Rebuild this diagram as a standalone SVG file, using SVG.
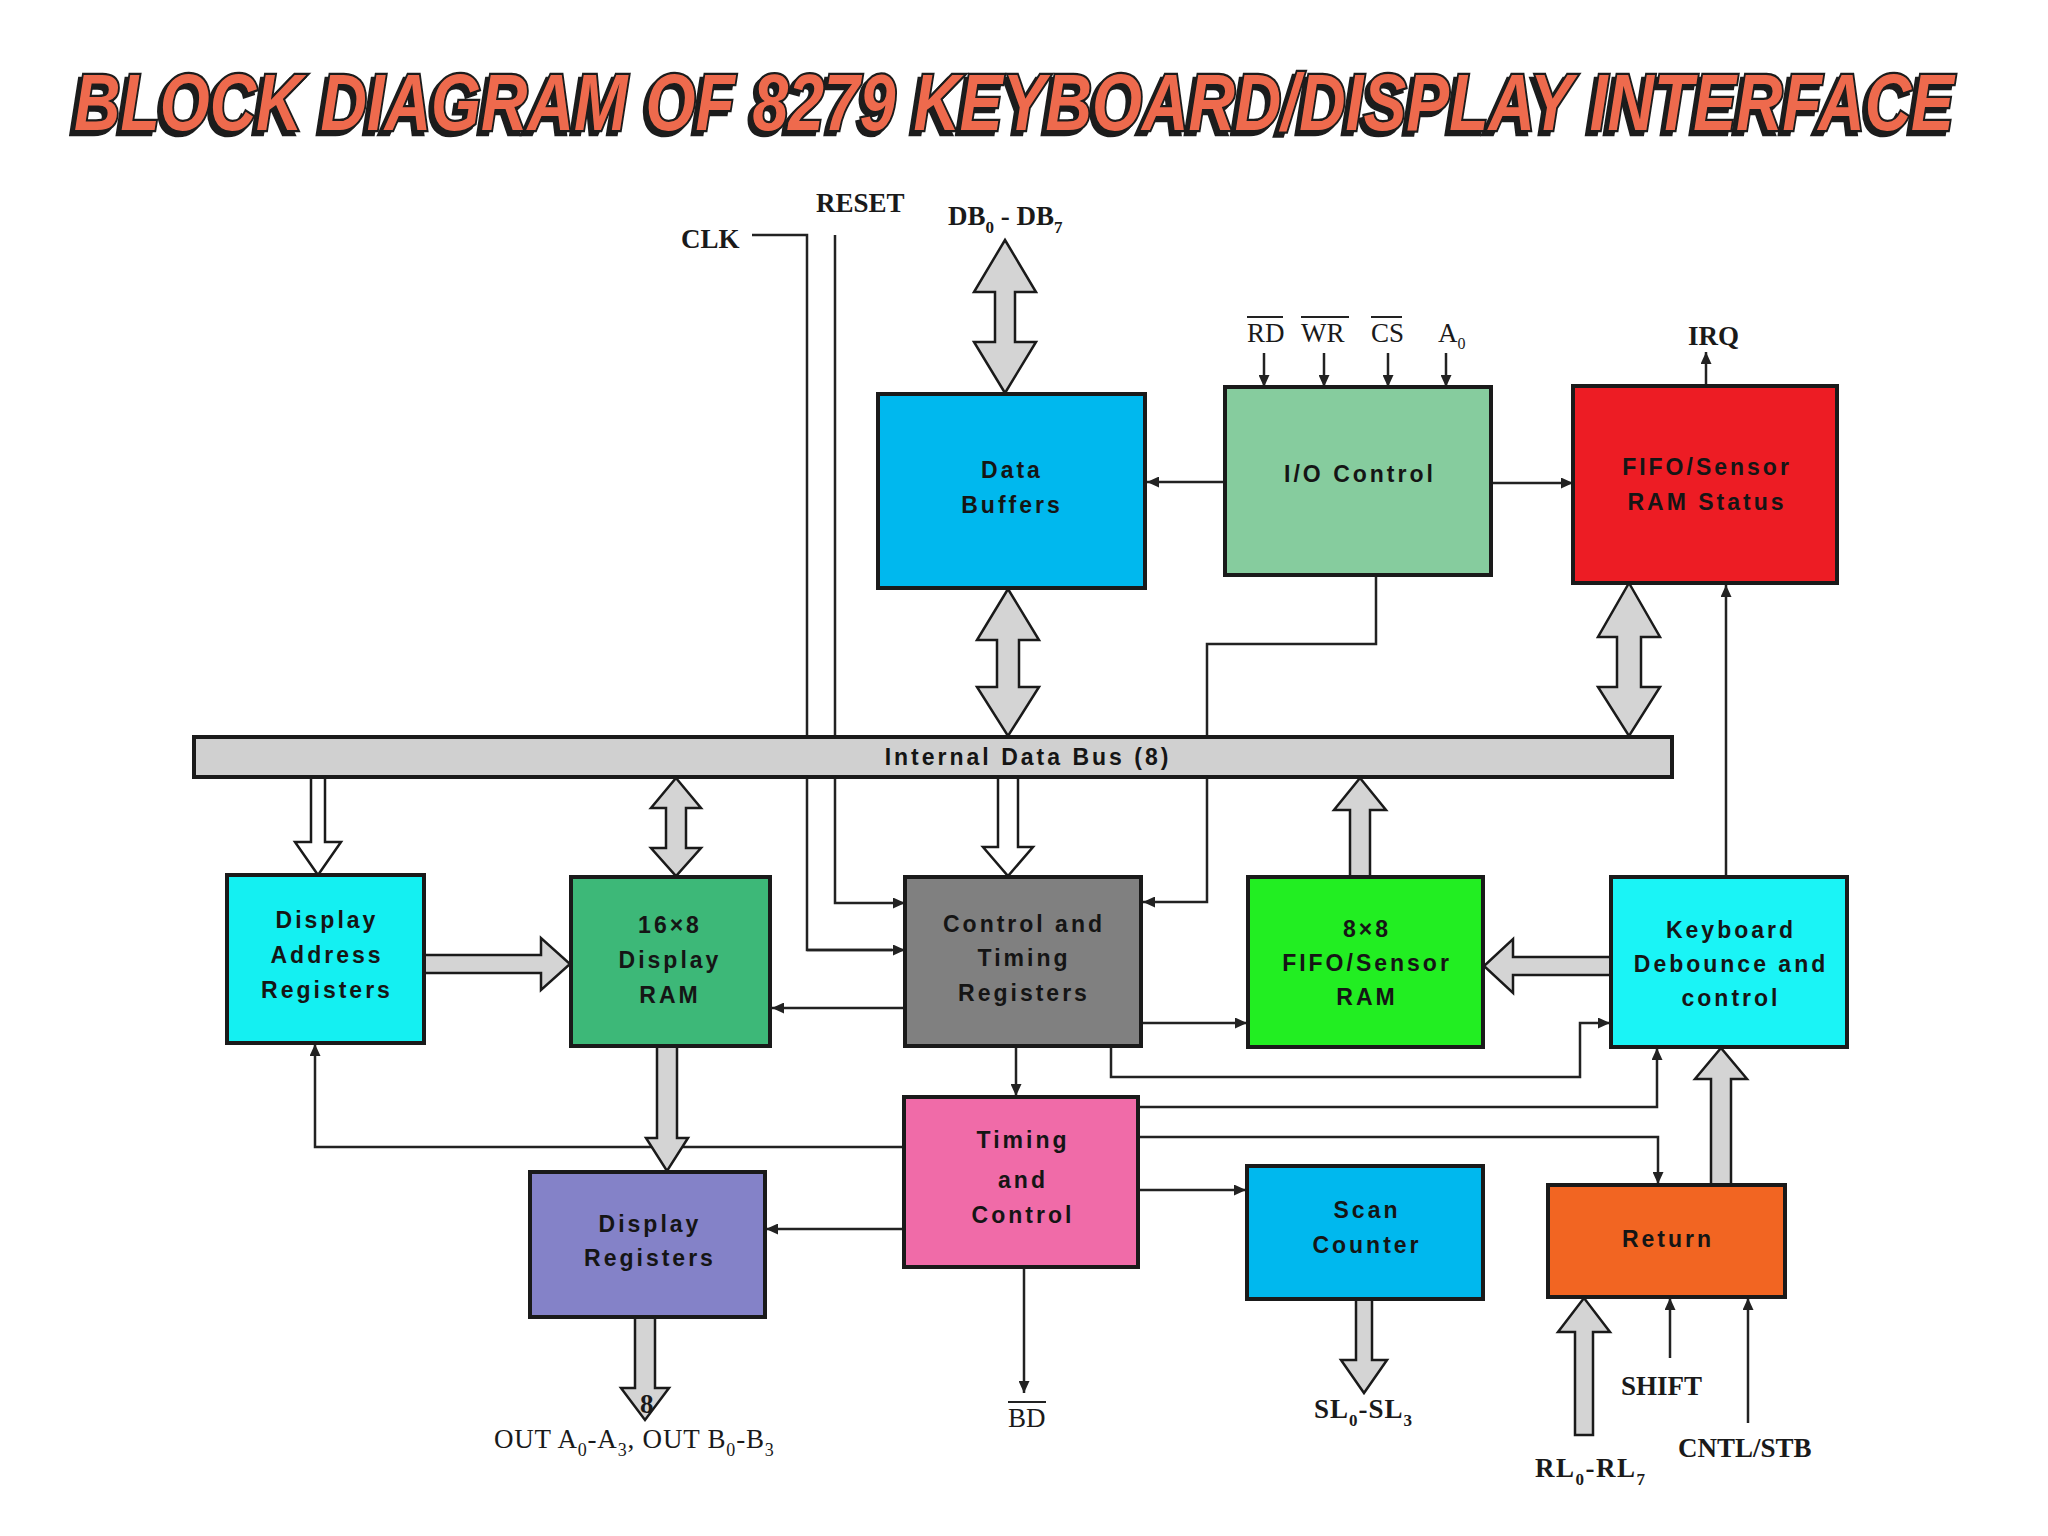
<svg xmlns="http://www.w3.org/2000/svg" width="2048" height="1536" viewBox="0 0 2048 1536">
<style>
.box{stroke:#1a1a1a;stroke-width:4}
.t{font-family:"Liberation Sans",Arial,sans-serif;font-weight:bold;font-size:23px;letter-spacing:3px;fill:#151515;text-anchor:middle}
.lbl{font-family:"Liberation Serif","Times New Roman",serif;font-weight:bold;font-size:27px;fill:#1a1a1a}
.lr{font-family:"Liberation Serif","Times New Roman",serif;font-size:27px;fill:#1a1a1a}
.ln{fill:none;stroke:#222;stroke-width:2.5}
.ar{fill:none;stroke:#222;stroke-width:2.5;marker-end:url(#ah)}
.ov{stroke:#222;stroke-width:2}
.blk{fill:#d4d4d4;stroke:#1a1a1a;stroke-width:2.5;stroke-linejoin:miter}
.hol{fill:#ffffff;stroke:#1a1a1a;stroke-width:2.5}
.title{font-family:"Liberation Sans",Arial,sans-serif;font-weight:bold;font-style:italic;font-size:56px}
</style>
<defs>
<marker id="ah" markerUnits="userSpaceOnUse" markerWidth="13" markerHeight="11" refX="12" refY="5.5" orient="auto">
<path d="M0,0 L12,5.5 L0,11 z" fill="#222"/>
</marker>
<filter id="shadow" filterUnits="userSpaceOnUse" x="0" y="0" width="2048" height="140">
<feOffset in="SourceAlpha" dx="-4" dy="3" result="o"/>
<feFlood flood-color="#1a1a1a"/>
<feComposite in2="o" operator="in" result="s"/>
<feMerge><feMergeNode in="s"/><feMergeNode in="SourceGraphic"/></feMerge>
</filter>
</defs>
<rect width="2048" height="1536" fill="#ffffff"/>

<g id="title" transform="scale(1,1.42)">
<text class="title" x="74" y="91.5" textLength="1880" lengthAdjust="spacingAndGlyphs" fill="#ee6b4d" stroke="#1a1a1a" stroke-width="3.2" paint-order="stroke" filter="url(#shadow)">BLOCK DIAGRAM OF 8279 KEYBOARD/DISPLAY INTERFACE</text>
</g>

<g id="connectors">
<path class="ln" d="M752,235 H807 V950 H892"/>
<path class="ar" d="M807,950 H905"/>
<path class="ar" d="M835,235 V903 H905"/>
<path class="ar" d="M1225,482 H1147"/>
<path class="ar" d="M1491,483 H1573"/>
<path class="ar" d="M1264,353 V387"/>
<path class="ar" d="M1324,353 V387"/>
<path class="ar" d="M1388,353 V387"/>
<path class="ar" d="M1446,353 V387"/>
<path class="ar" d="M1706,386 V352"/>
<path class="ar" d="M1376,575 V644 H1207 V902 H1143"/>
<path class="ar" d="M1726,877 V585"/>
<path class="ar" d="M905,1008 H772"/>
<path class="ar" d="M1141,1023 H1247"/>
<path class="ar" d="M1111,1046 V1077 H1580 V1023 H1610"/>
<path class="ar" d="M1016,1046 V1096"/>
<path class="ar" d="M1138,1107 H1657 V1048"/>
<path class="ar" d="M1138,1137 H1658 V1184"/>
<path class="ar" d="M904,1147 H315 V1044"/>
<path class="ar" d="M904,1229 H766"/>
<path class="ar" d="M1138,1190 H1246"/>
<path class="ar" d="M1024,1267 V1393"/>
<path class="ar" d="M1670,1358 V1298"/>
<path class="ar" d="M1748,1423 V1298"/>
<polygon class="blk" points="1005,240 1036,292 1015,292 1015,342 1036,342 1005,393 974,342 995,342 995,292 974,292"/>
<polygon class="blk" points="1008,589 1039,640 1019,640 1019,687 1039,687 1008,736 977,687 997,687 997,640 977,640"/>
<polygon class="blk" points="1629,583 1660,637 1641,637 1641,687 1660,687 1629,736 1598,687 1617,687 1617,637 1598,637"/>
<polygon class="hol" points="311,777 325,777 325,842 341,842 318,875 295,842 311,842"/>
<polygon class="blk" points="676,778 701,808 686,808 686,848 701,848 676,876 651,848 666,848 666,808 651,808"/>
<polygon class="hol" points="998,777 1018,777 1018,847 1033,847 1008,876 983,847 998,847"/>
<polygon class="blk" points="1350,877 1350,810 1334,810 1360,778 1386,810 1370,810 1370,877"/>
<polygon class="blk" points="424,955 541,955 541,938 570,964 541,990 541,973 424,973"/>
<polygon class="blk" points="1611,957 1513,957 1513,939 1484,966 1513,993 1513,975 1611,975"/>
<polygon class="blk" points="657,1046 677,1046 677,1138 688,1138 667,1171 646,1138 657,1138"/>
<polygon class="blk" points="1711,1185 1711,1079 1695,1079 1721,1048 1747,1079 1731,1079 1731,1185"/>
<polygon class="blk" points="635,1317 655,1317 655,1388 669,1388 645,1420 621,1388 635,1388"/>
<polygon class="blk" points="1356,1299 1372,1299 1372,1360 1387,1360 1364,1393 1341,1360 1356,1360"/>
<polygon class="blk" points="1575,1435 1575,1332 1558,1332 1584,1298 1610,1332 1593,1332 1593,1435"/>
</g>

<g id="internal-data-bus">
<rect class="box" x="194" y="737" width="1478" height="40" fill="#d0d0d0"/>
<text class="t" x="1028" y="765" font-size="22" letter-spacing="3.5">Internal Data Bus (8)</text>
</g>

<g id="data-buffers">
<rect class="box" x="878" y="394" width="267" height="194" fill="#00b8ee"/>
<text class="t" x="1012" y="478">Data</text>
<text class="t" x="1012" y="513">Buffers</text>
</g>

<g id="io-control">
<rect class="box" x="1225" y="387" width="266" height="188" fill="#86cc9e"/>
<text class="t" x="1360" y="482" letter-spacing="3.8">I/O Control</text>
</g>

<g id="fifo-status">
<rect class="box" x="1573" y="386" width="264" height="197" fill="#ed1c24"/>
<text class="t" x="1707" y="475" fill="#2a0000">FIFO/Sensor</text>
<text class="t" x="1707" y="510" fill="#2a0000">RAM Status</text>
</g>

<g id="display-address-registers">
<rect class="box" x="227" y="875" width="197" height="168" fill="#14f0f2"/>
<text class="t" x="327" y="928">Display</text>
<text class="t" x="327" y="963">Address</text>
<text class="t" x="327" y="998">Registers</text>
</g>

<g id="display-ram">
<rect class="box" x="571" y="877" width="199" height="169" fill="#3db878"/>
<text class="t" x="670" y="933">16×8</text>
<text class="t" x="670" y="968">Display</text>
<text class="t" x="670" y="1003">RAM</text>
</g>

<g id="control-timing-registers">
<rect class="box" x="905" y="877" width="236" height="169" fill="#808080"/>
<text class="t" x="1024" y="932">Control and</text>
<text class="t" x="1024" y="966">Timing</text>
<text class="t" x="1024" y="1001">Registers</text>
</g>

<g id="fifo-sensor-ram">
<rect class="box" x="1248" y="877" width="235" height="170" fill="#22ee22"/>
<text class="t" x="1367" y="937">8×8</text>
<text class="t" x="1367" y="971">FIFO/Sensor</text>
<text class="t" x="1367" y="1005">RAM</text>
</g>

<g id="keyboard-debounce">
<rect class="box" x="1611" y="877" width="236" height="170" fill="#1af4f6"/>
<text class="t" x="1731" y="938">Keyboard</text>
<text class="t" x="1731" y="972">Debounce and</text>
<text class="t" x="1731" y="1006">control</text>
</g>

<g id="timing-control">
<rect class="box" x="904" y="1097" width="234" height="170" fill="#f06ba8"/>
<text class="t" x="1023" y="1148">Timing</text>
<text class="t" x="1023" y="1188">and</text>
<text class="t" x="1023" y="1223">Control</text>
</g>

<g id="display-registers">
<rect class="box" x="530" y="1172" width="235" height="145" fill="#8482c8"/>
<text class="t" x="650" y="1232">Display</text>
<text class="t" x="650" y="1266">Registers</text>
</g>

<g id="scan-counter">
<rect class="box" x="1247" y="1166" width="236" height="133" fill="#00b8ee"/>
<text class="t" x="1367" y="1218">Scan</text>
<text class="t" x="1367" y="1253">Counter</text>
</g>

<g id="return">
<rect class="box" x="1548" y="1185" width="237" height="112" fill="#f26522"/>
<text class="t" x="1668" y="1247">Return</text>
</g>

<g id="labels">
<text class="lbl" x="681" y="248">CLK</text>
<text class="lbl" x="816" y="212">RESET</text>
<text class="lbl" x="948" y="225">DB<tspan font-size="17" dy="8">0</tspan><tspan dy="-8"> - DB</tspan><tspan font-size="17" dy="8">7</tspan></text>
<text class="lr" x="1247" y="342" font-size="25">RD</text>
<line class="ov" x1="1247" y1="317" x2="1283" y2="317"/>
<text class="lr" x="1301" y="342" font-size="25">WR</text>
<line class="ov" x1="1301" y1="317" x2="1349" y2="317"/>
<text class="lr" x="1371" y="342" font-size="25">CS</text>
<line class="ov" x1="1371" y1="317" x2="1402" y2="317"/>
<text class="lr" x="1438" y="342" font-size="25">A<tspan font-size="16" dy="7">0</tspan></text>
<text class="lbl" x="1688" y="345" font-size="26">IRQ</text>
<text class="lbl" x="640" y="1413" font-size="18">8</text>
<text class="lr" x="494" y="1448" font-size="29" letter-spacing="0.8">OUT A<tspan font-size="18" dy="8">0</tspan><tspan dy="-8">-A</tspan><tspan font-size="18" dy="8">3</tspan><tspan dy="-8">, OUT B</tspan><tspan font-size="18" dy="8">0</tspan><tspan dy="-8">-B</tspan><tspan font-size="18" dy="8">3</tspan></text>
<text class="lr" x="1008" y="1427">BD</text>
<line class="ov" x1="1008" y1="1402" x2="1046" y2="1402"/>
<text class="lbl" x="1314" y="1418" font-size="26" letter-spacing="1">SL<tspan font-size="17" dy="8">0</tspan><tspan dy="-8">-SL</tspan><tspan font-size="17" dy="8">3</tspan></text>
<text class="lbl" x="1621" y="1395" font-size="25">SHIFT</text>
<text class="lbl" x="1535" y="1477" font-size="26" letter-spacing="1.5">RL<tspan font-size="17" dy="8">0</tspan><tspan dy="-8">-RL</tspan><tspan font-size="17" dy="8">7</tspan></text>
<text class="lbl" x="1678" y="1457" font-size="25">CNTL/STB</text>
</g>
</svg>
